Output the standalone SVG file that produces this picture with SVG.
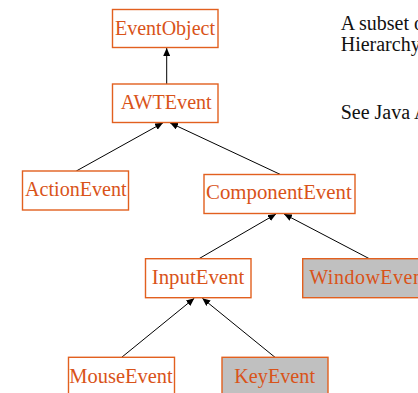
<svg xmlns="http://www.w3.org/2000/svg" width="418" height="393" viewBox="0 0 418 393">
<defs>
<marker id="ah" markerWidth="8" markerHeight="7" refX="8" refY="3.5" orient="auto" markerUnits="userSpaceOnUse">
<path d="M0,0 L8,3.5 L0,7 z" fill="#000"/>
</marker>
<style>
.box{fill:#fff;stroke:#e2601f;stroke-width:1.4}
.gray{fill:#c0c0c0}
.lbl{font-family:"Liberation Serif","Times New Roman",serif;font-size:20px;fill:#d95319}
.note{font-family:"Liberation Serif","Times New Roman",serif;font-size:20px;fill:#111}
.edge{stroke:#000;stroke-width:1;fill:none;marker-end:url(#ah)}
</style>
</defs>
<rect width="418" height="393" fill="#fff"/>
<g id="connectors">
<line class="edge" x1="166.7" y1="84" x2="166.7" y2="48"/>
<line class="edge" x1="76.3" y1="171" x2="163" y2="122.8"/>
<line class="edge" x1="280" y1="174.3" x2="170" y2="122.8"/>
<line class="edge" x1="199" y1="258.7" x2="276" y2="214"/>
<line class="edge" x1="369.3" y1="258.7" x2="284" y2="214"/>
<line class="edge" x1="121.7" y1="357.3" x2="194.3" y2="298.2"/>
<line class="edge" x1="275" y1="357.3" x2="202.3" y2="298.2"/>
</g>
<g id="EventObject"><rect class="box" x="112.5" y="9.5" width="105.5" height="38"/><text class="lbl" x="115" y="34.5" textLength="100" lengthAdjust="spacingAndGlyphs">EventObject</text></g>
<g id="AWTEvent"><rect class="box" x="112.5" y="84" width="105.5" height="38.5"/><text class="lbl" x="120.7" y="109.3" textLength="91" lengthAdjust="spacingAndGlyphs">AWTEvent</text></g>
<g id="ActionEvent"><rect class="box" x="22.5" y="171" width="106" height="39"/><text class="lbl" x="25" y="196" textLength="101.7" lengthAdjust="spacingAndGlyphs">ActionEvent</text></g>
<g id="ComponentEvent"><rect class="box" x="204" y="174.5" width="151" height="39"/><text class="lbl" x="206" y="199.3" textLength="145.7" lengthAdjust="spacingAndGlyphs">ComponentEvent</text></g>
<g id="InputEvent"><rect class="box" x="145.5" y="258.7" width="105.5" height="39"/><text class="lbl" x="151.7" y="284.3" textLength="92.6" lengthAdjust="spacingAndGlyphs">InputEvent</text></g>
<g id="WindowEvent"><rect class="box gray" x="302.7" y="258.7" width="150" height="39"/><text class="lbl" x="309.3" y="284.3" letter-spacing="0.5">WindowEvent</text></g>
<g id="MouseEvent"><rect class="box" x="68.5" y="357.3" width="106" height="50"/><text class="lbl" x="69.3" y="382.7" textLength="103.4" lengthAdjust="spacingAndGlyphs">MouseEvent</text></g>
<g id="KeyEvent"><rect class="box gray" x="222" y="357.3" width="106" height="50"/><text class="lbl" x="234.3" y="382.7" textLength="80.7" lengthAdjust="spacingAndGlyphs">KeyEvent</text></g>
<g id="notes">
<text class="note" x="340.7" y="30">A subset of</text>
<text class="note" x="340.7" y="51">Hierarchy</text>
<text class="note" x="340.7" y="119">See Java API</text>
</g>
</svg>
